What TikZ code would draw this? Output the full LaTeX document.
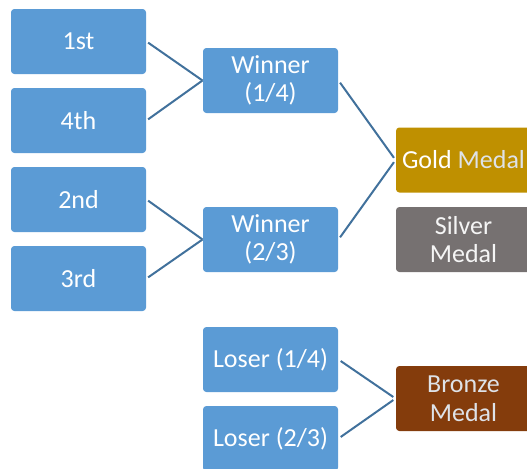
\documentclass[tikz,border=0pt]{standalone}
\usepackage{fontspec}
\setmainfont{Carlito}
\definecolor{teamblue}{RGB}{91,155,213}
\definecolor{linkblue}{RGB}{65,113,156}
\definecolor{goldfill}{RGB}{191,144,0}
\definecolor{silverfill}{RGB}{118,113,113}
\definecolor{bronzefill}{RGB}{132,60,12}
\definecolor{paletext}{RGB}{222,226,232}
\tikzset{every picture/.style={line width=0.75pt}}
\tikzset{
  slot/.style={rectangle, rounded corners=2.5pt, draw=none, text=white,
    minimum width=101.25pt, minimum height=48.75pt, align=center,
    inner sep=0pt, font=\fontsize{19.5}{21.5}\selectfont},
  team/.style={slot, fill=teamblue},
  medal/.style={slot, text=paletext},
  link/.style={draw=linkblue, line width=1.5pt}
}
\begin{document}
\begin{tikzpicture}[x=0.75pt,y=0.75pt,yscale=-1,xscale=1]
	\useasboundingbox (0,0) rectangle (527,468);
	\clip (0,0) rectangle (527,468);

	% first round
	\node[team] (first) at (78.5,41.5) {1st};
	\node[team] (fourth) at (78.5,120.5) {4th};
	\node[team] (second) at (78.5,199.5) {2nd};
	\node[team] (third) at (78.5,278.5) {3rd};

	% winners and losers
	\node[team] (win14) at (270.5,80.5) {Winner\\(1/4)};
	\node[team] (win23) at (270.5,239.5) {Winner\\(2/3)};
	\node[team] (lose14) at (270.5,359.5) {Loser (1/4)};
	\node[team] (lose23) at (270.5,438.5) {Loser (2/3)};

	% medals
	\node[medal, fill=goldfill] (gold) at (463.5,160) {\textcolor{white}{Gold} Medal};
	\node[medal, fill=silverfill, text=white!92!gray] (silver) at (463.5,239.5) {Silver\\Medal};
	\node[medal, fill=bronzefill] (bronze) at (463.5,398.5) {Bronze\\Medal};

	% connectors
	\draw[link, shorten <=1.5pt] (first.east) -- (win14.west);
	\draw[link, shorten <=1.5pt] (fourth.east) -- (win14.west);
	\draw[link, shorten <=1.5pt] (second.east) -- (win23.west);
	\draw[link, shorten <=1.5pt] (third.east) -- (win23.west);
	\draw[link, shorten <=2pt, shorten >=2pt] (win14.east) -- (gold.west);
	\draw[link, shorten <=2pt, shorten >=2pt] (win23.east) -- (gold.west);
	\draw[link, shorten <=2pt, shorten >=2pt] (lose14.east) -- (bronze.west);
	\draw[link, shorten <=2pt, shorten >=2pt] (lose23.east) -- (bronze.west);
\end{tikzpicture}
\end{document}
